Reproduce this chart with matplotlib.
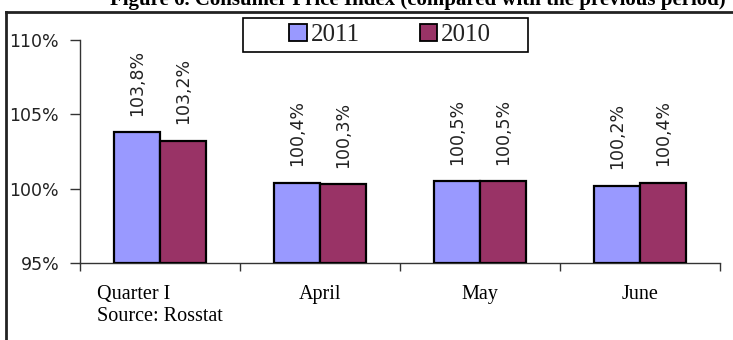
import matplotlib
matplotlib.use("Agg")
import matplotlib.pyplot as plt
import numpy as np
from matplotlib.patches import Patch, Rectangle
from matplotlib.lines import Line2D

categories = ["Quarter I\nSource: Rosstat", "April", "May", "June"]
series_names = ["2011", "2010"]
values_2011 = [103.8, 100.4, 100.5, 100.2]
values_2010 = [103.2, 100.3, 100.5, 100.4]
labels_2011 = ["103,8%", "100,4%", "100,5%", "100,2%"]
labels_2010 = ["103,2%", "100,3%", "100,5%", "100,4%"]
ytick_vals = [95, 100, 105, 110]
ytick_labels = ["95%", "100%", "105%", "110%"]
title = "Figure 6. Consumer Price Index (compared with the previous period)"

c2011 = "#9999FF"
c2010 = "#993366"
txtc = "#222222"

W, H = 733, 340
fig = plt.figure(figsize=(W / 100, H / 100), dpi=100)
fig.patch.set_facecolor("white")

ax = fig.add_axes([80 / W, 1 - 263 / H, 640 / W, 223 / H])
x = np.arange(len(categories))
bw = 0.29
ax.bar(x - bw / 2, [v - 95 for v in values_2011], bw, bottom=95, color=c2011,
       edgecolor="black", linewidth=1.6, zorder=3)
ax.bar(x + bw / 2, [v - 95 for v in values_2010], bw, bottom=95, color=c2010,
       edgecolor="black", linewidth=1.6, zorder=3)

for xi, v, lab in zip(x - bw / 2, values_2011, labels_2011):
    ax.annotate(lab, (xi, v), xytext=(0, 12), textcoords="offset points",
                rotation=90, ha="center", va="bottom", fontsize=12.5,
                color=txtc, family="DejaVu Sans")
for xi, v, lab in zip(x + bw / 2, values_2010, labels_2010):
    ax.annotate(lab, (xi, v), xytext=(0, 12), textcoords="offset points",
                rotation=90, ha="center", va="bottom", fontsize=12.5,
                color=txtc, family="DejaVu Sans")

ax.set_xlim(-0.5, len(categories) - 0.5)
ax.set_ylim(95, 110)
ax.set_yticks(ytick_vals)
ax.set_yticklabels(ytick_labels, fontsize=12.5, color=txtc, family="DejaVu Sans")
ax.tick_params(axis="y", direction="out", length=7, width=1, pad=8, color="#333333")

ax.set_xticks(np.arange(len(categories) + 1) - 0.5)
ax.set_xticklabels([])
ax.tick_params(axis="x", which="major", direction="out", length=6, width=1, color="#333333")
ax.set_xticks(x, minor=True)
ax.set_xticklabels(categories, minor=True, fontsize=14.5, color="black",
                   family="Liberation Serif", multialignment="left")
ax.tick_params(axis="x", which="minor", length=0, pad=16)

for s in ["top", "right"]:
    ax.spines[s].set_visible(False)
for s in ["left", "bottom"]:
    ax.spines[s].set_color("#333333")
    ax.spines[s].set_linewidth(1.0)

# legend with manual frame
fig.patches.append(Rectangle((243 / W, 1 - 52 / H), 285 / W, 34 / H,
                             transform=fig.transFigure, facecolor="white",
                             edgecolor="black", linewidth=1.2))
handles = [Patch(facecolor=c2011, edgecolor="black", linewidth=1.3),
           Patch(facecolor=c2010, edgecolor="black", linewidth=1.3)]
leg = fig.legend(handles, series_names, loc="center",
                 bbox_to_anchor=(390 / W, 1 - 35 / H), ncol=2, frameon=False,
                 handlelength=0.7, handleheight=0.7, handletextpad=0.15,
                 columnspacing=2.4, prop={"family": "Liberation Serif", "size": 18})
for t in leg.get_texts():
    t.set_color(txtc)

# outer frame lines
fig.add_artist(Line2D([6 / W, 6 / W], [0, 1 - 12 / H], transform=fig.transFigure,
                      color="#222222", linewidth=2.0))
fig.add_artist(Line2D([6 / W, 1], [1 - 12 / H, 1 - 12 / H], transform=fig.transFigure,
                      color="#222222", linewidth=2.0))

# title, clipped at the top edge as in the reference
fig.text(0.99, 1 - 5 / H, title, ha="right", va="baseline", fontsize=15,
         fontweight="bold", family="Liberation Serif", color="black")

fig.savefig("out.png", dpi=100, facecolor="white")
